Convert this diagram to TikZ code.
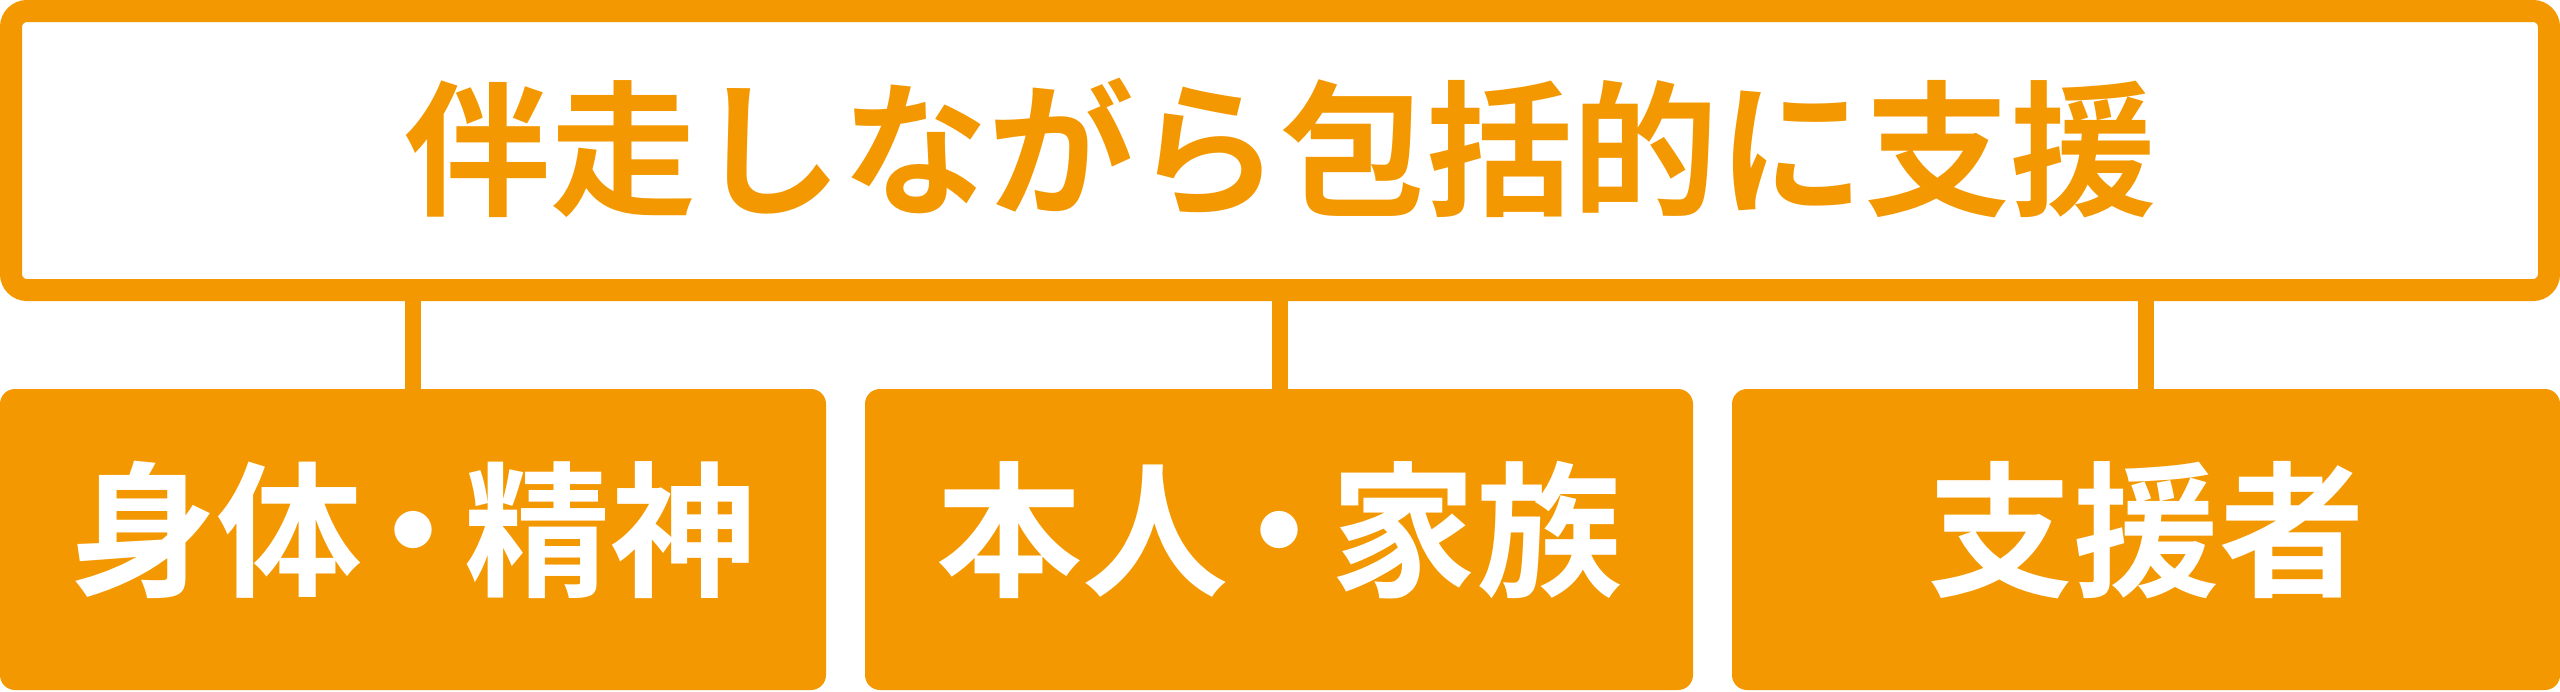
\documentclass[tikz,border=0pt]{standalone}
\usepackage{fontspec}
\setmainfont{Noto Sans CJK JP}[BoldFont={Noto Sans CJK JP Bold}]
\definecolor{brandorange}{RGB}{243,152,0}
\newcommand{\tightdot}{\kern-22pt・\kern-22pt}
\begin{document}
\begin{tikzpicture}[x=1pt,y=-1pt,
  topbox/.style={draw=brandorange,line width=22pt,rounded corners=16pt,fill=white},
  catbox/.style={fill=brandorange,rounded corners=15pt},
  bar/.style={draw=brandorange,line width=16pt},
  toptext/.style={text=brandorange,font=\bfseries\fontsize{146}{150}\selectfont,inner sep=0pt},
  cattext/.style={text=white,font=\bfseries\fontsize{146}{150}\selectfont,inner sep=0pt}]
\useasboundingbox (0,0) rectangle (2560,691);
% connector bars (drawn first, behind boxes)
\coordinate (t1) at (413,290);
\coordinate (t2) at (1280,290);
\coordinate (t3) at (2146,290);
\coordinate (c1) at (413,395);
\coordinate (c2) at (1280,395);
\coordinate (c3) at (2146,395);
\draw[bar] (t1) -- (c1);
\draw[bar] (t2) -- (c2);
\draw[bar] (t3) -- (c3);
% top box
\draw[topbox] (11,11) rectangle (2549,290);
\node[toptext] (top) at (1280,148) {伴走しながら包括的に支援};
% category boxes
\fill[catbox] (0,389) rectangle (826,690);
\fill[catbox] (865,389) rectangle (1693,690);
\fill[catbox] (1732,389) rectangle (2560,690);
\node[cattext] (b1) at (413,530) {身体\tightdot 精神};
\node[cattext] (b2) at (1279,530) {本人\tightdot 家族};
\node[cattext] (b3) at (2146,530) {支援者};
\end{tikzpicture}
\end{document}
